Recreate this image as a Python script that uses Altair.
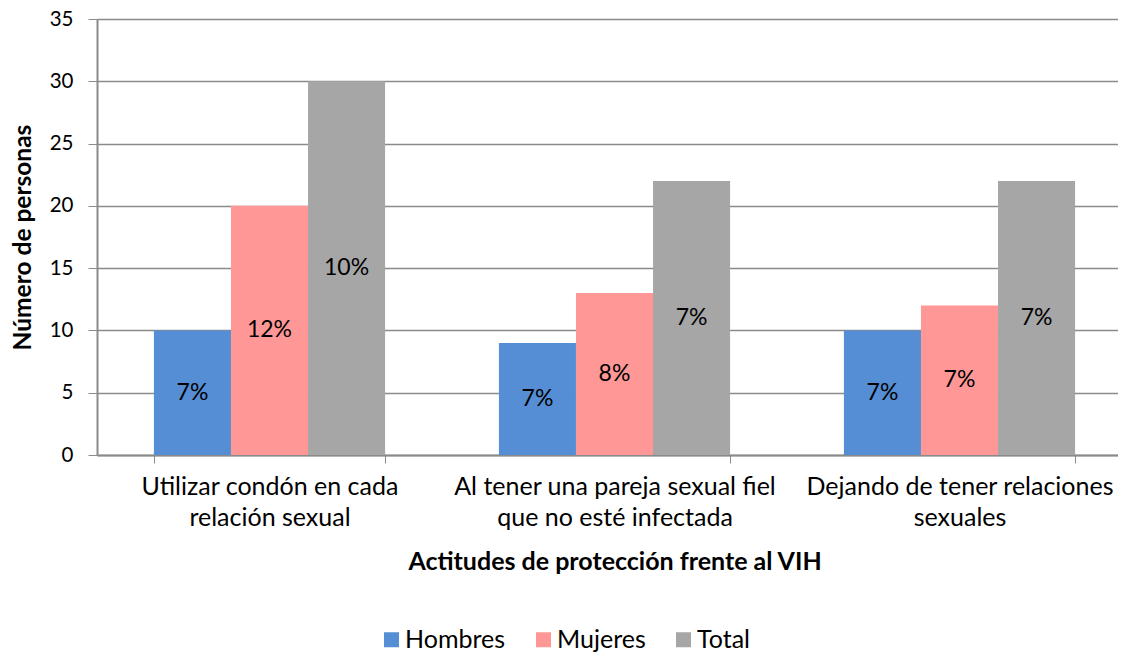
import altair as alt
import pandas as pd

# Categories (two-line axis labels joined by \n)
categories = [
    "Utilizar condón en cada\nrelación sexual",
    "Al tener una pareja sexual fiel\nque no esté infectada",
    "Dejando de tener relaciones\nsexuales",
]
series = ["Hombres", "Mujeres", "Total"]
hombres = [10, 9, 10]
mujeres = [20, 13, 12]
total = [30, 22, 22]
hombres_pct = ["7%", "7%", "7%"]
mujeres_pct = ["12%", "8%", "7%"]
total_pct = ["10%", "7%", "7%"]
colors = ["#558ED5", "#FF9797", "#A6A6A6"]
y_ticks = [0, 5, 10, 15, 20, 25, 30, 35]

rows = []
for s, vals, pcts in zip(series, [hombres, mujeres, total], [hombres_pct, mujeres_pct, total_pct]):
    for c, v, p in zip(categories, vals, pcts):
        rows.append({"cat": c, "series": s, "value": v, "pct": p})
df = pd.DataFrame(rows)

FONT = "Lato"
GRID = "#8A8A8A"

x_enc = alt.X(
    "cat:N",
    sort=categories,
    scale=alt.Scale(paddingInner=0.33, paddingOuter=0.165),
    axis=alt.Axis(
        title="Actitudes de protección frente al VIH",
        titleFontSize=25,
        titleFontWeight="bold",
        titleColor="#000000",
        titlePadding=19,
        labelAngle=0,
        labelFontSize=25,
        labelColor="#000000",
        labelLineHeight=31,
        labelPadding=11,
        labelLimit=0,
        labelExpr="split(datum.label, '\\n')",
        tickBand="extent",
        tickSize=8,
        tickColor=GRID,
        domainColor=GRID,
        domainWidth=2,
        grid=False,
    ),
)
xo_enc = alt.XOffset("series:N", sort=series, scale=alt.Scale(paddingInner=0, paddingOuter=0))

bars = alt.Chart(df).mark_bar().encode(
    x=x_enc,
    xOffset=xo_enc,
    y=alt.Y(
        "value:Q",
        scale=alt.Scale(domain=[0, 35], nice=False),
        axis=alt.Axis(
            title="Número de personas",
            titleFontSize=24.5,
            titleFontWeight="bold",
            titleColor="#000000",
            titlePadding=14,
            values=y_ticks,
            labelFontSize=20.5,
            labelColor="#000000",
            labelPadding=15,
            tickSize=9,
            tickColor=GRID,
            domainColor=GRID,
            domainWidth=2,
            gridColor=GRID,
            gridWidth=1.5,
        ),
    ),
    color=alt.Color(
        "series:N",
        sort=series,
        scale=alt.Scale(domain=series, range=colors),
        legend=alt.Legend(
            title=None,
            orient="none",
            legendX=282,
            legendY=608,
            direction="horizontal",
            symbolType="square",
            symbolSize=225,
            symbolStrokeWidth=0,
            labelFontSize=25,
            labelColor="#000000",
            labelOffset=1,
            columnPadding=25,
        ),
    ),
)

labels = alt.Chart(df).transform_calculate(mid="datum.value / 2").mark_text(
    fontSize=23, color="#000000", font=FONT, baseline="middle"
).encode(
    x=alt.X("cat:N", sort=categories),
    xOffset=alt.XOffset("series:N", sort=series),
    y=alt.Y("mid:Q"),
    text="pct:N",
)

chart = alt.layer(bars, labels).properties(
    width=1035, height=436,
    autosize=alt.AutoSizeParams(type="none"),
    padding={"left": 89, "top": 11, "right": -14, "bottom": 199},
).configure(font=FONT).configure_view(stroke=None)

chart.save("out.html", embed_options={"renderer": "svg", "actions": False})
